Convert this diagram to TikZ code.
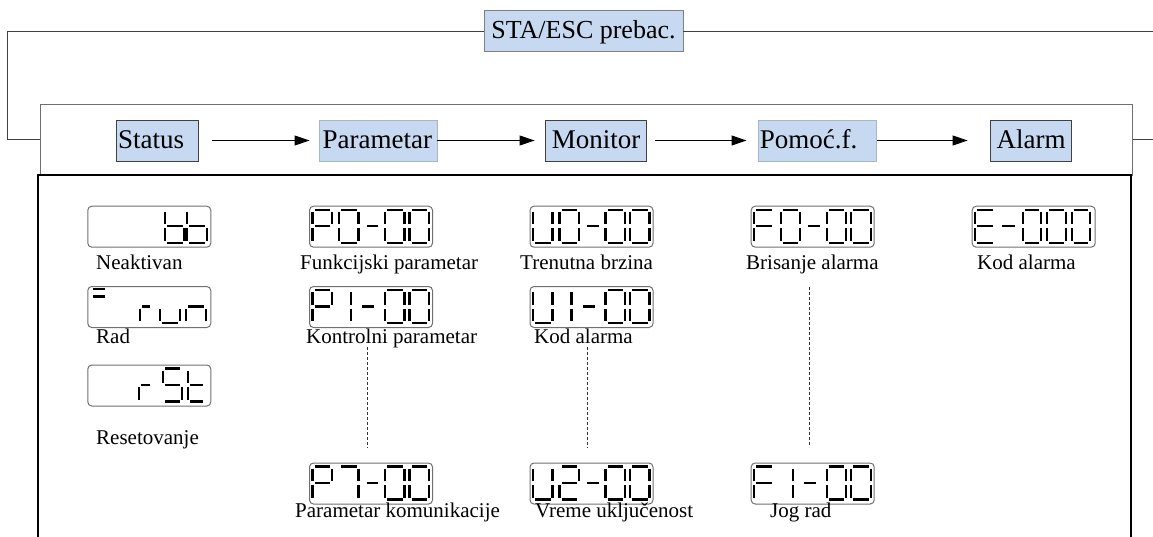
\documentclass[tikz,border=0pt]{standalone}
\usepackage{fontspec}
\setmainfont{Liberation Serif}
\usetikzlibrary{arrows.meta,calc}
\definecolor{hdrfill}{RGB}{198,217,241}
\definecolor{hdrline}{RGB}{64,64,64}
\definecolor{lcdline}{RGB}{112,112,112}
\definecolor{bandline}{RGB}{110,110,110}

% seven-segment glyph geometry (width, height, corner gap)
\def\gw{19.5}
\def\gh{33}
\def\gg{2}
\newcommand\segA{\draw[seg] (\gg,0) -- (\gw-\gg,0);}
\newcommand\segB{\draw[seg] (\gw,\gg) -- (\gw,\gh/2-\gg);}
\newcommand\segC{\draw[seg] (\gw,\gh/2+\gg) -- (\gw,\gh-\gg);}
\newcommand\segD{\draw[seg] (\gg,\gh) -- (\gw-\gg,\gh);}
\newcommand\segE{\draw[seg] (0,\gh/2+\gg) -- (0,\gh-\gg);}
\newcommand\segF{\draw[seg] (0,\gg) -- (0,\gh/2-\gg);}
\newcommand\segG{\draw[seg] (\gg,\gh/2) -- (\gw-\gg,\gh/2);}
\newcommand\dZero{\segA\segB\segC\segD\segE\segF}
\newcommand\dTwo{\segA\segB\segG\segE\segD}
\newcommand\dSeven{\segA\segB\segC}
\newcommand\dP{\segA\segB\segE\segF\segG}
\newcommand\dU{\segB\segC\segD\segE\segF}
\newcommand\dF{\segA\segE\segF\segG}
\newcommand\dE{\segA\segD\segE\segF\segG}
\newcommand\db{\segC\segD\segE\segF\segG}
\newcommand\dr{\segE\segG}
\newcommand\du{\segC\segD\segE}
\newcommand\dn{\segC\segE\segG}
\newcommand\dS{\segA\segF\segG\segC\segD}
\newcommand\dt{\segD\segE\segF\segG}
\newcommand\dDash{\draw[seg] (0,\gh/2) -- (\gw,\gh/2);}
\newcommand\dOne{\draw[seg] (0,\gg) -- (0,\gh/2-\gg) (0,\gh/2+\gg) -- (0,\gh-\gg);}
% \glyph[width]{display anchor}{x offset}{segments}
\newcommand\glyph[4][19.5]{%
  \begin{scope}[shift={($(#2)+(#3,4)$)}]\def\gw{#1}#4\end{scope}}

\begin{document}
\begin{tikzpicture}[x=1pt,y=-1pt,
  hdr/.style={draw=hdrline, line width=0.9pt, fill=hdrfill, inner sep=0pt,
    minimum height=41pt, text height=19.6pt, text depth=4pt,
    font=\fontsize{27}{30}\selectfont},
  hdrsoft/.style={hdr, draw=hdrfill!60!gray},
  lcd/.style={draw=lcdline, line width=1pt, rounded corners=4pt,
    minimum width=123pt, minimum height=41pt, inner sep=0pt, anchor=north west},
  lbl/.style={font=\fontsize{21}{24}\selectfont, inner sep=0pt, anchor=base west},
  seg/.style={line width=2.2pt, black},
  flow/.style={line width=1pt, -{Triangle[length=15pt,width=10pt]}},
  loopline/.style={line width=1pt, hdrline},
  vdots/.style={line width=0.8pt, dash pattern=on 3pt off 2pt, black!80}
]
\useasboundingbox (0,0) rectangle (1153,536);
\clip (0,0) rectangle (1153,536);

% switching loop on top
\node[hdr, draw=gray, minimum width=199pt, font=\fontsize{26}{30}\selectfont]
  (sw) at (583.5,31) {STA/ESC prebac.};

% header band and main frame
\node[draw=bandline, line width=1pt, minimum width=1091.7pt, minimum height=71pt,
  inner sep=0pt, anchor=north west] (band) at (40,103.7) {};
\draw[line width=2pt] (38,545) -- (38,174.5) -- (1130.5,174.5) -- (1130.5,545);

\coordinate (edgeT) at (1160,31);
\coordinate (edgeR) at (1160,140);
\draw[loopline] (sw.west) -- (7,31) |- (band.west);
\draw[loopline] (sw.east) -- (edgeT);
\draw[loopline] (band.east) -- (band.east -| edgeR);

% mode boxes
\node[hdr, minimum width=81.6pt, text width=78.6pt, align=left] (st) at (157.5,140.5) {Status};
\node[hdrsoft, minimum width=118pt, text width=110.6pt, align=left] (pa) at (378,140.5) {Parametar};
\node[hdr, minimum width=101pt] (mo) at (596.2,140.5) {Monitor};
\node[hdrsoft, minimum width=118.7pt, text width=114.7pt, align=left] (po) at (817.3,140.5) {Pomoć.f.};
\node[hdr, minimum width=81pt] (al) at (1031.2,140.5) {Alarm};

\draw[flow] ([xshift=13pt]st.east) -- ([xshift=-9pt]pa.west);
\draw[flow] (pa.east) -- ([xshift=-10.7pt]mo.west);
\draw[flow] ([xshift=8pt]mo.east) -- ([xshift=-11pt]po.west);
\draw[flow] (po.east) -- ([xshift=-22.7pt]al.west);

% displays
\node[lcd] (bb)  at (87.3,205.7) {};
\node[lcd] (run) at (87.3,286) {};
\node[lcd] (rst) at (87.3,364.5) {};
\node[lcd] (p0)  at (309,205.7) {};
\node[lcd] (p1)  at (309,286) {};
\node[lcd] (p7)  at (309,462.5) {};
\node[lcd] (u0)  at (529.5,205.7) {};
\node[lcd] (u1)  at (529.5,286) {};
\node[lcd] (u2)  at (529.5,462.5) {};
\node[lcd] (f0)  at (750.7,205.7) {};
\node[lcd] (f1)  at (750.7,462.5) {};
\node[lcd] (er)  at (971.7,205.7) {};

% display contents
\glyph{bb.north west}{77.7}{\db}
\glyph{bb.north west}{100}{\db}

\glyph{run.north west}{5.5}{\draw[seg] (0,-1) -- (12,-1) (0,6.5) -- (12,6.5);}
\glyph[12]{run.north west}{52.7}{\dr}
\glyph{run.north west}{73}{\du}
\glyph{run.north west}{99}{\dn}

\glyph[12.5]{rst.north west}{52}{\dr}
\glyph{rst.north west}{75.5}{\dS}
\glyph[17]{rst.north west}{101}{\dt}

\glyph{p0.north west}{3.5}{\dP}
\glyph{p0.north west}{30}{\dZero}
\glyph[11.5]{p0.north west}{57.5}{\dDash}
\glyph{p0.north west}{76}{\dZero}
\glyph{p0.north west}{100.5}{\dZero}

\glyph{p1.north west}{3.5}{\dP}
\glyph{p1.north west}{42}{\dOne}
\glyph[12]{p1.north west}{53}{\dDash}
\glyph{p1.north west}{76}{\dZero}
\glyph{p1.north west}{100.5}{\dZero}

\glyph{p7.north west}{3.5}{\dP}
\glyph{p7.north west}{30}{\dSeven}
\glyph[11.5]{p7.north west}{57.5}{\dDash}
\glyph{p7.north west}{76}{\dZero}
\glyph{p7.north west}{100.5}{\dZero}

\glyph{u0.north west}{3.5}{\dU}
\glyph{u0.north west}{30}{\dZero}
\glyph[11.5]{u0.north west}{57.5}{\dDash}
\glyph{u0.north west}{76}{\dZero}
\glyph{u0.north west}{100.5}{\dZero}

\glyph{u1.north west}{3.5}{\dU}
\glyph{u1.north west}{42}{\dOne}
\glyph[12]{u1.north west}{53}{\dDash}
\glyph{u1.north west}{76}{\dZero}
\glyph{u1.north west}{100.5}{\dZero}

\glyph{u2.north west}{3.5}{\dU}
\glyph{u2.north west}{30}{\dTwo}
\glyph[11.5]{u2.north west}{57.5}{\dDash}
\glyph{u2.north west}{76}{\dZero}
\glyph{u2.north west}{100.5}{\dZero}

\glyph{f0.north west}{3.5}{\dF}
\glyph{f0.north west}{30}{\dZero}
\glyph[11.5]{f0.north west}{57.5}{\dDash}
\glyph{f0.north west}{76}{\dZero}
\glyph{f0.north west}{100.5}{\dZero}

\glyph{f1.north west}{3.5}{\dF}
\glyph{f1.north west}{42}{\dOne}
\glyph[12]{f1.north west}{53}{\dDash}
\glyph{f1.north west}{76}{\dZero}
\glyph{f1.north west}{100.5}{\dZero}

\glyph{er.north west}{3.3}{\dE}
\glyph[13]{er.north west}{30}{\dDash}
\glyph[18.5]{er.north west}{51}{\dZero}
\glyph[18.5]{er.north west}{75.5}{\dZero}
\glyph[18.5]{er.north west}{100}{\dZero}

% continuation marks
\draw[vdots, shorten <=19pt, shorten >=15pt] ([xshift=-3.5pt]p1.south) -- ([xshift=-3.5pt]p7.north);
\draw[vdots, shorten <=19pt, shorten >=15pt] ([xshift=-3.7pt]u1.south) -- ([xshift=-3.7pt]u2.north);
\draw[vdots, shorten <=39.3pt, shorten >=15.5pt] ([xshift=-3.7pt]f0.south) -- ([xshift=-3.7pt]f1.north);

% captions
\node[lbl] (t1)  at (96,269.5)  {Neaktivan};
\node[lbl] (t2)  at (96,343.5)  {Rad};
\node[lbl] (t3)  at (96,444)    {Resetovanje};
\node[lbl] (t4)  at (300,269.5) {Funkcijski parametar};
\node[lbl] (t5)  at (306,343.5) {Kontrolni parametar};
\node[lbl] (t6)  at (295,517)   {Parametar komunikacije};
\node[lbl] (t7)  at (520,269.5) {Trenutna brzina};
\node[lbl] (t8)  at (534,343.5) {Kod alarma};
\node[lbl] (t9)  at (535,517)   {Vreme uključenost};
\node[lbl] (t10) at (746,269.5) {Brisanje alarma};
\node[lbl] (t11) at (770,517)   {Jog rad};
\node[lbl] (t12) at (977,269.5) {Kod alarma};
\end{tikzpicture}
\end{document}
